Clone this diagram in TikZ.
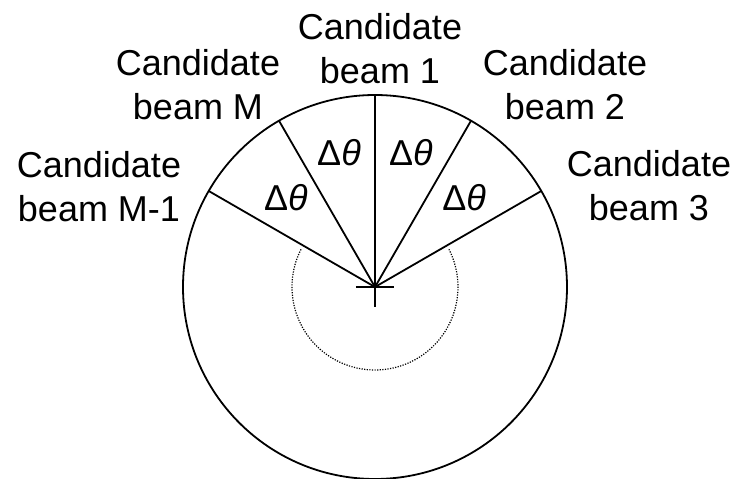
\documentclass[tikz,border=0pt]{standalone}
\usepackage{fontspec}
\setmainfont{Liberation Sans}
\usetikzlibrary{positioning}

\begin{document}
\begin{tikzpicture}[x=1pt,y=1pt,
  beam/.style={align=center, inner sep=0pt, anchor=base, font=\fontsize{36}{44}\selectfont},
  delta/.style={inner sep=0pt, font=\fontsize{36}{40}\selectfont},
  edge/.style={line width=1.8pt}]
\useasboundingbox (-375,-192) rectangle (361,287);

\coordinate (O) at (0,0);
\coordinate (B1) at (90:192);
\coordinate (B2) at (60:192);
\coordinate (B3) at (30:192);
\coordinate (BM) at (120:192);
\coordinate (BM1) at (150:192);

\draw[edge] (O) circle[radius=192];
\draw[edge] (O) -- (B1);
\draw[edge] (O) -- (B2);
\draw[edge] (O) -- (B3);
\draw[edge] (O) -- (BM);
\draw[edge] (O) -- (BM1);

\draw[edge] (-19,0) -- (19,0);
\draw[edge] (O) -- (0,-20);
\draw[line width=1.2pt, dash pattern=on 1.2pt off 1.4pt] (153:83) arc[start angle=153, end angle=387, radius=83];

\node[beam] (L1) at (5,203.7) {Candidate\\beam 1};
\node[beam] (L2) at (190,167) {Candidate\\beam 2};
\node[beam] (L3) at (274,66) {Candidate\\beam 3};
\node[beam] (LM) at (-177,167) {Candidate\\beam M};
\node[beam] (LM1) at (-276,65.3) {Candidate\\beam M-1};

\node[delta] (D1) at (75:139) {Δ\textit{θ}};
\node[delta] (D2) at (45:126) {Δ\textit{θ}};
\node[delta] (D3) at (105:139) {Δ\textit{θ}};
\node[delta] (D4) at (135:126) {Δ\textit{θ}};
\end{tikzpicture}
\end{document}
